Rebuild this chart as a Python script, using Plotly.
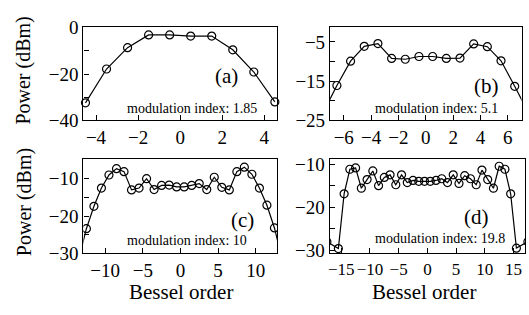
import plotly.graph_objects as go

W, H = 529, 315

# ---------- data ----------
orders_a = [-4.5, -3.5, -2.5, -1.5, -0.5, 0.5, 1.5, 2.5, 3.5, 4.5]
power_a = [-32.4, -17.8, -8.6, -3.1, -3.1, -3.6, -3.6, -9.5, -19.1, -32.0]

orders_b = [-7.5, -6.5, -5.5, -4.5, -3.5, -2.5, -1.5, -0.5, 0.5, 1.5, 2.5, 3.5, 4.5, 5.5, 6.5, 7.5]
power_b = [-23.0, -16.1, -9.9, -6.1, -5.4, -9.2, -9.4, -8.7, -8.7, -9.2, -9.1, -5.5, -6.2, -9.8, -16.3, -23.0]

orders_c = [-13.5, -12.5, -11.5, -10.5, -9.5, -8.5, -7.5, -6.5, -5.5, -4.5, -3.5, -2.5, -1.5, -0.5,
            0.5, 1.5, 2.5, 3.5, 4.5, 5.5, 6.5, 7.5, 8.5, 9.5, 10.5, 11.5, 12.5, 13.5]
power_c = [-31.4, -23.4, -17.4, -12.5, -9.0, -7.3, -8.1, -13.0, -12.5, -10.0, -12.9, -11.8, -11.7, -12.2,
           -12.2, -11.8, -11.3, -12.9, -9.6, -12.3, -13.0, -8.1, -6.9, -8.8, -12.5, -17.1, -23.2, -31.4]

orders_d = [-17.5, -15.5, -14.5, -13.5, -12.5, -11.5, -10.5, -9.5, -8.5, -7.5, -6.5, -5.5, -4.5, -3.5, -2.5, -1.5, -0.5,
            0.5, 1.5, 2.5, 3.5, 4.5, 5.5, 6.5, 7.5, 8.5, 9.5, 10.5, 11.5, 12.5, 13.5, 14.5, 15.5, 17.5]
power_d = [-28.0, -29.6, -16.9, -11.2, -10.9, -15.6, -13.6, -11.6, -15.0, -13.1, -12.5, -14.8, -12.5, -14.3, -13.8, -14.0, -14.0,
           -14.0, -13.8, -13.4, -14.3, -12.5, -14.5, -12.7, -13.4, -14.8, -11.4, -13.6, -15.6, -10.5, -11.2, -16.9, -29.5, -28.0]

mod_labels = ["modulation index: 1.85", "modulation index: 5.1",
              "modulation index: 10", "modulation index: 19.8"]
panel_labels = ["(a)", "(b)", "(c)", "(d)"]

xticks_a = [-4, -2, 0, 2, 4]
xticks_b = [-6, -4, -2, 0, 2, 4, 6]
xticks_c = [-10, -5, 0, 5, 10]
xticks_d = [-15, -10, -5, 0, 5, 10, 15]

yticks_a = [-40, -30, -20, -10, 0]
ylabels_a = ["−40", "", "−20", "", "0"]
yticks_b = [-25, -20, -15, -10, -5]
ylabels_b = ["−25", "", "−15", "", "−5"]
yticks_c = [-30, -25, -20, -15, -10]
ylabels_c = ["−30", "", "−20", "", "−10"]
yticks_d = [-30, -25, -20, -15, -10]
ylabels_d = ["−30", "", "−20", "", "−10"]

FONT = "Liberation Serif"

def fx(px):
    return px / W

def fy(py):
    return 1 - py / H

panels = [
    dict(x=orders_a, y=power_a, xr=[-4.6, 4.6], yr=[-40, 0.3], xd=[81.7, 276], yd=[18.3, 118.3],
         xt=xticks_a, yt=yticks_a, yl=ylabels_a, clip=False, xfs=19),
    dict(x=orders_b, y=power_b, xr=[-7.0, 7.0], yr=[-25, -1.2], xd=[329.3, 521.5], yd=[18.3, 118.3],
         xt=xticks_b, yt=yticks_b, yl=ylabels_b, clip=True, xfs=19),
    dict(x=orders_c, y=power_c, xr=[-12.9, 12.9], yr=[-30, -4.8], xd=[81.7, 276.5], yd=[160, 260.7],
         xt=xticks_c, yt=yticks_c, yl=ylabels_c, clip=True, xfs=19),
    dict(x=orders_d, y=power_d, xr=[-17.0, 17.0], yr=[-30.7, -8.9], xd=[329, 525], yd=[160, 260.7],
         xt=xticks_d, yt=yticks_d, yl=ylabels_d, clip=True, xfs=17),
]

fig = go.Figure()
layout = {}
for i, p in enumerate(panels):
    n = "" if i == 0 else str(i + 1)
    fig.add_trace(go.Scatter(
        x=p["x"], y=p["y"], mode="lines+markers",
        xaxis="x" + n, yaxis="y" + n,
        line=dict(color="black", width=1.2),
        marker=dict(symbol="circle-open", size=8, color="black", line=dict(width=1.2)),
        cliponaxis=p["clip"], showlegend=False, hoverinfo="skip",
    ))
    common = dict(showline=True, linecolor="black", linewidth=1.3, mirror=True,
                  ticks="inside", ticklen=5, tickwidth=1, tickcolor="black",
                  showgrid=False, zeroline=False)
    layout["xaxis" + n] = dict(common, domain=[fx(p["xd"][0]), fx(p["xd"][1])], range=p["xr"],
                               tickmode="array", tickvals=p["xt"], tickangle=0,
                               ticktext=[("−" + str(-v)) if v < 0 else str(v) for v in p["xt"]],
                               tickfont=dict(family=FONT, size=p["xfs"], color="black"),
                               anchor="y" + n)
    layout["yaxis" + n] = dict(common, domain=[fy(p["yd"][1]), fy(p["yd"][0])], range=p["yr"],
                               tickmode="array", tickvals=p["yt"], ticktext=p["yl"],
                               tickfont=dict(family=FONT, size=19, color="black"),
                               anchor="x" + n)

annotations = []
mod_pos = [(191, 106), (436, 106), (186, 246.7), (440, 245)]
lab_pos = [(225, 71), (486, 81.7), (241.7, 225), (476.7, 222)]
for i in range(4):
    annotations.append(dict(text=mod_labels[i], x=fx(mod_pos[i][0]), y=fy(mod_pos[i][1]),
                            xref="paper", yref="paper", showarrow=False, xanchor="center", yanchor="middle",
                            borderpad=0, font=dict(family=FONT, size=14, color="black")))
    annotations.append(dict(text=panel_labels[i], x=fx(lab_pos[i][0]), y=fy(lab_pos[i][1]),
                            xref="paper", yref="paper", showarrow=False, xanchor="center", yanchor="middle",
                            borderpad=0, font=dict(family=FONT, size=21, color="black")))
for yc in (65, 206):
    annotations.append(dict(text="Power (dBm)", x=fx(22), y=fy(yc), xref="paper", yref="paper",
                            showarrow=False, textangle=-90, xanchor="center", yanchor="middle",
                            font=dict(family=FONT, size=20, color="black")))
for xc in (180, 424):
    annotations.append(dict(text="Bessel order", x=fx(xc), y=fy(302), xref="paper", yref="paper",
                            showarrow=False, xanchor="center", yanchor="middle", borderpad=0,
                            font=dict(family=FONT, size=21, color="black")))

fig.update_layout(width=W, height=H, margin=dict(l=0, r=0, t=0, b=0),
                  paper_bgcolor="white", plot_bgcolor="white", hovermode=False,
                  annotations=annotations, **layout)

fig.write_html("out.html", config={"displayModeBar": False},
               post_script="document.body.style.margin='0';document.body.style.overflow='hidden';")
